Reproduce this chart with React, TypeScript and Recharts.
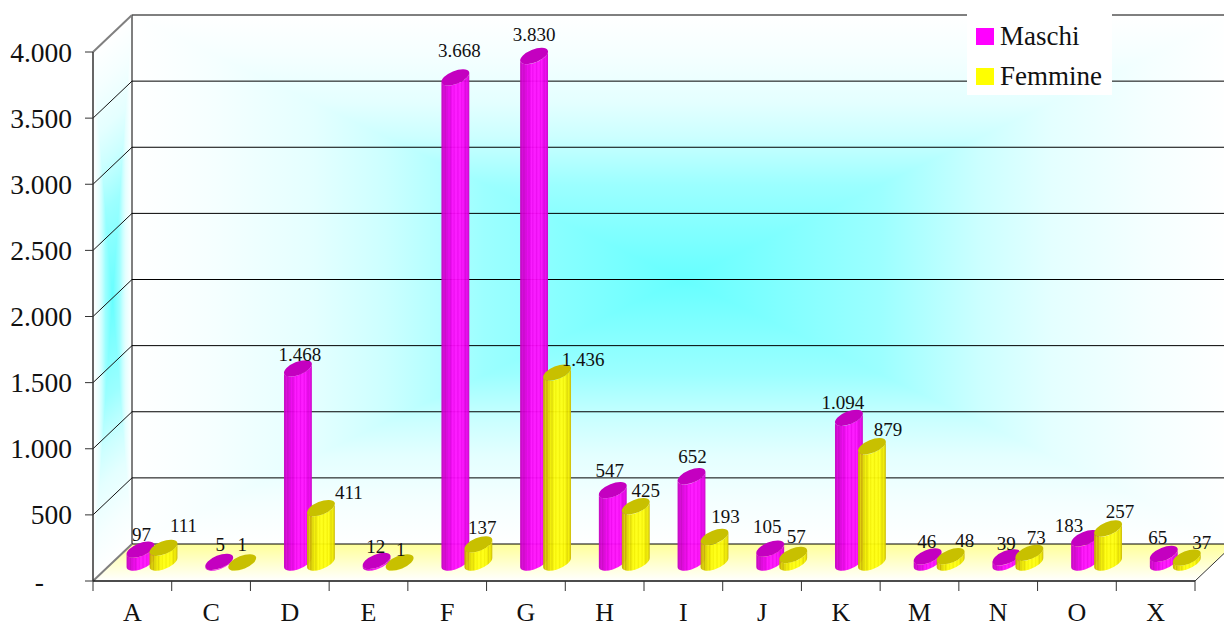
import { BarChart, Bar, XAxis, YAxis, CartesianGrid, Legend, LabelList } from 'recharts';

const categorie = ['A', 'C', 'D', 'E', 'F', 'G', 'H', 'I', 'J', 'K', 'M', 'N', 'O', 'X'];
const maschi = [97, 5, 1468, 12, 3668, 3830, 547, 652, 105, 1094, 46, 39, 183, 65];
const femmine = [111, 1, 411, 1, 137, 1436, 425, 193, 57, 879, 48, 73, 257, 37];
const yTicks = [0, 500, 1000, 1500, 2000, 2500, 3000, 3500, 4000];

const data = categorie.map((c, i) => ({ cat: c, Maschi: maschi[i], Femmine: femmine[i] }));

// label nudges, the original labels were placed by hand
const nudgeMaschi = [[1, -15], [1, -17], [2, -14], [-1, -14], [4, -27], [0, -21], [-3, -20], [1, -20], [-3, -22], [-6, -15], [-1, -15], [0, -14], [-16, -13], [-6, -16]];
const nudgeFemmine = [[20, -22], [0, -18], [28, -16], [1, -13], [4, -17], [26, -13], [10, -16], [11, -20], [3, -18], [16, -17], [14, -16], [7, -15], [12, -17], [15, -15]];

const SERIF = '"Liberation Serif", serif';
const W = 1224;
const H = 627;
const LEFT = 93;
const RIGHT = 1195;
const TOP = 52;
const BOTTOM = 581;
const DEPTH_X = 39;
const DEPTH_Y = -37;
const STEP = (RIGHT - LEFT) / categorie.length;

// back wall corners
const bx = LEFT + DEPTH_X;
const bxr = RIGHT + DEPTH_X;
const by = TOP + DEPTH_Y;
const bb = BOTTOM + DEPTH_Y;
// back wall centre
const cx = (bx + bxr) / 2;
const cy = (by + bb) / 2;
// side wall centre, and the normal of its slanted top edge
const sx = LEFT + DEPTH_X / 2;
const sy = (TOP + bb) / 2;
const len = Math.hypot(DEPTH_X, DEPTH_Y);
const nx = -DEPTH_Y / len;
const ny = DEPTH_X / len;
const reach = (sy - (TOP + DEPTH_Y / 2)) * ny;

// bars stand in the middle of the floor depth
const BAR_DX = DEPTH_X / 2;
const BAR_DY = DEPTH_Y / 2;

const fmt = (v: number) => String(v).replace(/\B(?=(\d{3})+$)/g, '.');

const A = 14.8;
const B = 6.5;
const ROT = -22;

function Cylinder(props: any) {
  const { x, y, width, height, value, tipo } = props;
  const cxBar = x + width / 2 + BAR_DX;
  const top = y + BAR_DY;
  const base = y + height + BAR_DY;
  const r = (ROT * Math.PI) / 180;
  const t = Math.atan2(-B * Math.sin(r), A * Math.cos(r));
  const ex = A * Math.cos(t) * Math.cos(r) - B * Math.sin(t) * Math.sin(r);
  const ey = A * Math.cos(t) * Math.sin(r) + B * Math.sin(t) * Math.cos(r);
  const body =
    `M${cxBar - ex},${top - ey} L${cxBar - ex},${base - ey} ` +
    `A${A},${B} ${ROT} 0 0 ${cxBar + ex},${base + ey} ` +
    `L${cxBar + ex},${top + ey} ` +
    `A${A},${B} ${ROT} 0 1 ${cxBar - ex},${top - ey} Z`;
  const cap = tipo === 'M' ? '#c400c0' : '#c8c000';
  return (
    <g data-value={value}>
      <path d={body} fill={`url(#cil${tipo})`} fillOpacity={0.95} />
      <ellipse cx={cxBar} cy={top} rx={A} ry={B} fill={cap} transform={`rotate(${ROT} ${cxBar} ${top})`} />
    </g>
  );
}

function barLabel(nudges: number[][]) {
  return (props: any) => {
    const { x, y, width, index, value } = props;
    const n = nudges[index];
    return (
      <text
        x={x + width / 2 + BAR_DX + n[0]}
        y={y + BAR_DY + n[1]}
        textAnchor="middle"
        dominantBaseline="central"
        fontFamily={SERIF}
        fontSize={19}
        fill="#111"
      >
        {fmt(value)}
      </text>
    );
  };
}

function YTick(props: any) {
  const { y, payload } = props;
  const zero = payload.value === 0;
  return (
    <text
      x={zero ? 44 : 72}
      y={y}
      textAnchor="end"
      dominantBaseline="central"
      fontFamily={SERIF}
      fontSize={27.5}
      fill="#111"
    >
      {zero ? '-' : fmt(payload.value)}
    </text>
  );
}

function XTick(props: any) {
  const { x, payload, index } = props;
  return (
    <g>
      <line x1={x - STEP / 2} x2={x - STEP / 2} y1={BOTTOM} y2={BOTTOM + 10} stroke="#333" />
      {index === categorie.length - 1 && (
        <line x1={x + STEP / 2} x2={x + STEP / 2} y1={BOTTOM} y2={BOTTOM + 10} stroke="#333" />
      )}
      <text x={x} y={612.5} textAnchor="middle" dominantBaseline="central" fontFamily={SERIF} fontSize={26} fill="#111">
        {payload.value}
      </text>
    </g>
  );
}

// walls and floor, they have to sit in the grid layer or they hide the lines
function Backdrop() {
  return (
    <g>
      <rect x={bx} y={by} width={bxr - bx} height={bb - by} fill="url(#backH)" />
      <polygon points={`${bx},${by} ${bxr},${by} ${cx},${cy}`} fill="url(#backV)" />
      <polygon points={`${bx},${bb} ${bxr},${bb} ${cx},${cy}`} fill="url(#backV)" />
      <polygon points={`${LEFT},${TOP} ${bx},${by} ${bx},${bb} ${LEFT},${BOTTOM}`} fill="url(#sideH)" />
      <polygon points={`${LEFT},${TOP} ${bx},${by} ${sx},${sy}`} fill="url(#sideV)" />
      <polygon points={`${LEFT},${BOTTOM} ${bx},${bb} ${sx},${sy}`} fill="url(#sideV)" />
      <polygon points={`${LEFT},${BOTTOM} ${RIGHT},${BOTTOM} ${bxr},${bb} ${bx},${bb}`} fill="url(#floor)" />
      <line x1={bx} x2={bx} y1={by} y2={bb} stroke="#000" strokeWidth={1} />
      <line x1={RIGHT} x2={bxr} y1={BOTTOM} y2={bb} stroke="#333" strokeWidth={1} />
    </g>
  );
}

function GridLine(props: any) {
  const { y1, index } = props;
  const outer = Math.abs(y1 - TOP) < 0.5 || Math.abs(y1 - BOTTOM) < 0.5;
  return (
    <g>
      {index === 0 && <Backdrop />}
      <line x1={bx} x2={W + 20} y1={y1 + DEPTH_Y} y2={y1 + DEPTH_Y} stroke="#000" strokeWidth={1} />
      <line
        x1={LEFT}
        x2={bx}
        y1={y1}
        y2={y1 + DEPTH_Y}
        stroke={outer ? '#808080' : '#111'}
        strokeWidth={outer ? 2 : 1}
      />
    </g>
  );
}

function stripes(dark: string, mid: string, bright: string, soft: string) {
  const cols = [dark, dark, mid, dark, mid, mid, soft, mid, soft, bright, soft, bright, bright, soft, bright, bright, soft, bright, soft, mid, soft, mid, dark];
  return cols.map((c, i) => <stop key={i} offset={i / (cols.length - 1)} stopColor={c} />);
}

function LegendBox(props: any) {
  return (
    <div style={{ width: 145, height: 82, background: '#fff', position: 'relative', fontFamily: SERIF, fontSize: 27, color: '#111' }}>
      {props.payload.map((p: any, i: number) => (
        <div key={p.value} style={{ position: 'absolute', left: 9, top: 7 + i * 40, height: 32, lineHeight: '32px', whiteSpace: 'nowrap' }}>
          <span style={{ position: 'absolute', left: 0, top: 8, width: 18, height: 17, background: p.color }} />
          <span style={{ marginLeft: 24 }}>{p.value}</span>
        </div>
      ))}
    </div>
  );
}

// falloff, rim to centre
const rimStops: [number, string][] = [
  [0, '#ffffff'],
  [0.075, '#f5ffff'],
  [0.165, '#e4ffff'],
  [0.23, '#ccffff'],
  [0.32, '#9cffff'],
  [0.5, '#66ffff'],
];

// white at the rim, cyan at the middle, along a line through the centre
function rim(id: string, x1: number, y1: number, x2: number, y2: number) {
  const back = [...rimStops].reverse().slice(1).map(([o, c]) => [1 - o, c] as [number, string]);
  return (
    <linearGradient id={id} gradientUnits="userSpaceOnUse" x1={x1} y1={y1} x2={x2} y2={y2}>
      {[...rimStops, ...back].map(([o, c]) => (
        <stop key={o} offset={o} stopColor={c} />
      ))}
    </linearGradient>
  );
}

export default function App() {
  return (
    <div style={{ position: 'absolute', left: 0, top: 0, width: W, height: H, overflow: 'hidden', background: '#fff' }}>
      <BarChart
        width={W}
        height={H}
        data={data}
        margin={{ top: TOP, right: W - RIGHT, bottom: 0, left: 0 }}
        barSize={26}
        barGap={-3}
      >
        <defs>
          <linearGradient id="cilM" x1="0" x2="1" y1="0" y2="0">{stripes('#c800c4', '#dc00dc', '#ff10ff', '#f000f0')}</linearGradient>
          <linearGradient id="cilF" x1="0" x2="1" y1="0" y2="0">{stripes('#c8b400', '#e0d800', '#ffff10', '#f4f000')}</linearGradient>
          {rim('backH', bx, 0, bxr, 0)}
          {rim('backV', 0, by, 0, bb)}
          {rim('sideH', LEFT, 0, bx, 0)}
          {rim('sideV', sx - nx * reach, sy - ny * reach, sx + nx * reach, sy + ny * reach)}
          <linearGradient id="floor" x1="0" x2="0" y1="0" y2="1">
            <stop offset="0" stopColor="#ffff99" />
            <stop offset="1" stopColor="#ffffff" />
          </linearGradient>
        </defs>
        <CartesianGrid vertical={false} horizontal={GridLine} />
        <XAxis
          dataKey="cat"
          height={H - BOTTOM}
          interval={0}
          axisLine={{ stroke: '#111', strokeWidth: 1.5 }}
          tickLine={false}
          tick={XTick}
        />
        <YAxis
          width={LEFT}
          domain={[0, 4000]}
          ticks={yTicks}
          interval={0}
          axisLine={{ stroke: '#333', strokeWidth: 1.5 }}
          tickLine={{ stroke: '#333' }}
          tickSize={8}
          tick={YTick}
        />
        <Bar dataKey="Maschi" fill="#ff00ff" isAnimationActive={false} shape={(p: any) => <Cylinder {...p} tipo="M" />}>
          <LabelList dataKey="Maschi" content={barLabel(nudgeMaschi)} />
        </Bar>
        <Bar dataKey="Femmine" fill="#ffff00" isAnimationActive={false} shape={(p: any) => <Cylinder {...p} tipo="F" />}>
          <LabelList dataKey="Femmine" content={barLabel(nudgeFemmine)} />
        </Bar>
        <Legend
          layout="vertical"
          align="center"
          verticalAlign="middle"
          itemSorter={null}
          content={LegendBox}
          wrapperStyle={{ position: 'absolute', left: 967, top: 13, width: 145, height: 82 }}
        />
      </BarChart>
    </div>
  );
}
